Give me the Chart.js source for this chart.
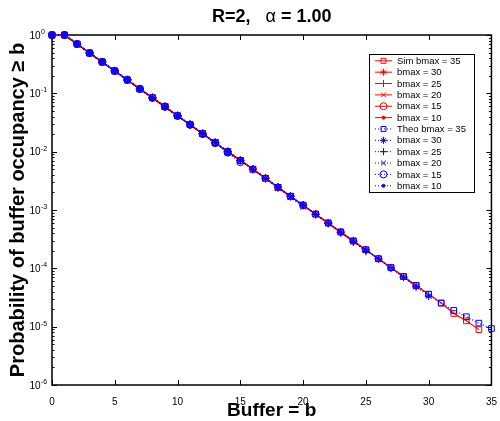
<!DOCTYPE html>
<html>
<head>
<meta charset="utf-8">
<script src="https://cdn.jsdelivr.net/npm/chart.js@4.4.0/dist/chart.umd.min.js"></script>
<style>
  html, body { margin: 0; padding: 0; background: #fff; }
</style>
</head>
<body>
<canvas id="bufChart" width="500" height="421"></canvas>
<script>
// buffer levels b = 0..35
const bufferSteps = [0, 1, 2, 3, 4, 5, 6, 7, 8, 9, 10, 11, 12, 13, 14, 15, 16, 17,
  18, 19, 20, 21, 22, 23, 24, 25, 26, 27, 28, 29, 30, 31, 32, 33, 34, 35];
const xTicks = [0, 5, 10, 15, 20, 25, 30, 35];
const yDecades = [1e-6, 1e-5, 1e-4, 1e-3, 1e-2, 1e-1, 1];

// simulation, red
const simB35 = [1, 1, 0.70, 0.49, 0.345, 0.242, 0.170, 0.119, 0.084, 0.059, 0.0412, 0.0290,
  0.0203, 0.0143, 0.0100, 0.0071, 0.0050, 0.0035, 0.00245, 0.00172, 0.00121, 0.00085,
  0.00060, 0.00042, 0.000295, 0.000208, 0.000146, 0.000103, 0.0000725, 0.000051,
  0.0000360, 0.0000254, 0.0000168, 0.0000126, 0.0000089];
const simB30 = [1, 1, 0.70, 0.49, 0.345, 0.242, 0.170, 0.119, 0.084, 0.059, 0.0412, 0.0290,
  0.0203, 0.0143, 0.0100, 0.0071, 0.0050, 0.0035, 0.00245, 0.00172, 0.00121, 0.00085,
  0.00060, 0.00042, 0.000295, 0.000207, 0.000145, 0.000102, 0.0000715, 0.0000490];
const simB25 = [1, 1, 0.70, 0.49, 0.345, 0.242, 0.170, 0.119, 0.084, 0.059, 0.0412, 0.0290,
  0.0203, 0.0143, 0.0100, 0.0071, 0.0050, 0.0035, 0.00245, 0.00172, 0.00121, 0.00084,
  0.00059, 0.00041, 0.000287];
const simB20 = [1, 1, 0.70, 0.49, 0.345, 0.242, 0.170, 0.119, 0.084, 0.059, 0.0412, 0.0290,
  0.0203, 0.0143, 0.0100, 0.0071, 0.0050, 0.0035, 0.00242, 0.00168];
const simB15 = [1, 1, 0.70, 0.49, 0.345, 0.242, 0.170, 0.119, 0.084, 0.059, 0.0412, 0.0290,
  0.0202, 0.0141, 0.0098];
const simB10 = [1, 1, 0.70, 0.49, 0.345, 0.242, 0.170, 0.119, 0.083, 0.0585];

// theory, blue
const theoB35 = [1, 1, 0.70, 0.49, 0.345, 0.242, 0.170, 0.119, 0.084, 0.059, 0.0412, 0.0290,
  0.0203, 0.0143, 0.0100, 0.0071, 0.0050, 0.0035, 0.00245, 0.00172, 0.00121, 0.00085,
  0.00060, 0.00042, 0.000295, 0.000208, 0.000146, 0.000103, 0.0000725, 0.000051,
  0.0000360, 0.0000254, 0.0000190, 0.0000148, 0.0000115, 0.0000093];
const theoB30 = [1, 1, 0.70, 0.49, 0.345, 0.242, 0.170, 0.119, 0.084, 0.059, 0.0412, 0.0290,
  0.0203, 0.0143, 0.0100, 0.0071, 0.0050, 0.0035, 0.00245, 0.00172, 0.00121, 0.00085,
  0.00060, 0.00042, 0.000295, 0.000207, 0.000145, 0.000101, 0.0000705, 0.0000485, 0.0000335];
const theoB25 = [1, 1, 0.70, 0.49, 0.345, 0.242, 0.170, 0.119, 0.084, 0.059, 0.0412, 0.0290,
  0.0203, 0.0143, 0.0100, 0.0071, 0.0050, 0.0035, 0.00245, 0.00172, 0.00121, 0.00084,
  0.00059, 0.00041, 0.000283, 0.000195];
const theoB20 = [1, 1, 0.70, 0.49, 0.345, 0.242, 0.170, 0.119, 0.084, 0.059, 0.0412, 0.0290,
  0.0203, 0.0143, 0.0100, 0.0071, 0.0050, 0.0035, 0.00240, 0.00165, 0.00113];
const theoB15 = [1, 1, 0.70, 0.49, 0.345, 0.242, 0.170, 0.119, 0.084, 0.059, 0.0412, 0.0290,
  0.0201, 0.0140, 0.0096, 0.0066];
const theoB10 = [1, 1, 0.70, 0.49, 0.345, 0.242, 0.170, 0.118, 0.082, 0.057, 0.0395];

const RED = '#ff0000';
const BLUE = '#0000ff';

function toPoints(vals) {
  return vals.map((v, i) => ({ x: bufferSteps[i], y: v }));
}

// matlab-ish markers: s, *, +, x, o, .
const markerStyles = [
  { pointStyle: 'rect', radius: 4, filled: false },
  { pointStyle: 'star', radius: 4, filled: false },
  { pointStyle: 'cross', radius: 4, filled: false },
  { pointStyle: 'crossRot', radius: 4, filled: false },
  { pointStyle: 'circle', radius: 3.5, filled: false },
  { pointStyle: 'circle', radius: 1.5, filled: true }
];

function makeSet(label, vals, color, k, theo) {
  const m = markerStyles[k];
  return {
    label: label,
    data: toPoints(vals),
    borderColor: color,
    borderWidth: 1.2,
    borderDash: theo ? [1, 2] : [],
    pointStyle: m.pointStyle,
    pointRadius: m.radius,
    pointHoverRadius: m.radius,
    pointBorderColor: color,
    pointBackgroundColor: m.filled ? color : 'rgba(0,0,0,0)',
    pointBorderWidth: 1,
    fill: false,
    tension: 0,
    clip: false,
    order: theo ? 0 : 1
  };
}

const datasets = [
  makeSet('Sim bmax = 35', simB35, RED, 0, false),
  makeSet('bmax = 30', simB30, RED, 1, false),
  makeSet('bmax = 25', simB25, RED, 2, false),
  makeSet('bmax = 20', simB20, RED, 3, false),
  makeSet('bmax = 15', simB15, RED, 4, false),
  makeSet('bmax = 10', simB10, RED, 5, false),
  makeSet('Theo bmax = 35', theoB35, BLUE, 0, true),
  makeSet('bmax = 30', theoB30, BLUE, 1, true),
  makeSet('bmax = 25', theoB25, BLUE, 2, true),
  makeSet('bmax = 20', theoB20, BLUE, 3, true),
  makeSet('bmax = 15', theoB15, BLUE, 4, true),
  makeSet('bmax = 10', theoB10, BLUE, 5, true)
];

const FONT = "'Liberation Sans', Arial, Helvetica, sans-serif";
Chart.defaults.font.family = FONT;
Chart.defaults.color = '#000';

function drawMarker(ctx, ds, x, y, r) {
  ctx.save();
  ctx.strokeStyle = ds.pointBorderColor;
  ctx.fillStyle = ds.pointBackgroundColor;
  ctx.lineWidth = 1;
  Chart.helpers.drawPoint(ctx, {
    pointStyle: ds.pointStyle, radius: r, rotation: 0, borderWidth: 1
  }, x, y);
  ctx.restore();
}

// box with inward ticks, like the old matlab figure
const matlabFrame = {
  id: 'matlabFrame',
  beforeDatasetsDraw(chart) {
    const { ctx, chartArea: a, scales: { x, y } } = chart;
    ctx.save();
    ctx.strokeStyle = '#000';
    ctx.lineWidth = 1;
    ctx.beginPath();
    xTicks.forEach(v => {
      const px = Math.round(x.getPixelForValue(v)) + 0.5;
      ctx.moveTo(px, a.bottom); ctx.lineTo(px, a.bottom - 5);
      ctx.moveTo(px, a.top); ctx.lineTo(px, a.top + 5);
    });
    yDecades.forEach((d, i) => {
      const py = Math.round(y.getPixelForValue(d)) + 0.5;
      ctx.moveTo(a.left, py); ctx.lineTo(a.left + 5, py);
      ctx.moveTo(a.right, py); ctx.lineTo(a.right - 5, py);
      if (i < yDecades.length - 1) {
        for (let k = 2; k <= 9; k++) {
          const pm = Math.round(y.getPixelForValue(k * d)) + 0.5;
          ctx.moveTo(a.left, pm); ctx.lineTo(a.left + 2.5, pm);
          ctx.moveTo(a.right, pm); ctx.lineTo(a.right - 2.5, pm);
        }
      }
    });
    ctx.stroke();
    ctx.lineWidth = 1.5;
    ctx.strokeRect(a.left, a.top, a.right - a.left, a.bottom - a.top);

    // y tick labels 10^n
    ctx.fillStyle = '#000';
    ctx.textBaseline = 'middle';
    yDecades.forEach(d => {
      const py = y.getPixelForValue(d);
      const e = Math.round(Math.log10(d));
      ctx.font = '10px ' + FONT;
      ctx.textAlign = 'right';
      ctx.fillText('10', a.left - 11.5, py + 1);
      ctx.font = '7px ' + FONT;
      ctx.textAlign = 'left';
      ctx.fillText(e === 0 ? '0' : '-' + Math.abs(e), a.left - 11, py - 3);
    });
    ctx.restore();
  },
  afterDraw(chart) {
    const { ctx, chartArea: a } = chart;
    ctx.save();
    // title
    const parts = [
      { t: 'R=2,   ', f: 'bold 18px ' + FONT },
      { t: '\u03b1', f: '18px ' + FONT },
      { t: ' = 1.00', f: 'bold 18px ' + FONT }
    ];
    let total = 0;
    parts.forEach(p => { ctx.font = p.f; p.w = ctx.measureText(p.t).width; total += p.w; });
    let tx = (a.left + a.right) / 2 - total / 2;
    ctx.fillStyle = '#000';
    ctx.textBaseline = 'middle';
    ctx.textAlign = 'left';
    parts.forEach(p => { ctx.font = p.f; ctx.fillText(p.t, tx, 17); tx += p.w; });

    // legend box
    const bx = 369, by = 54, bw = 105, bh = 138;
    ctx.fillStyle = '#fff';
    ctx.fillRect(bx, by, bw, bh);
    ctx.strokeStyle = '#000';
    ctx.lineWidth = 1;
    ctx.strokeRect(bx + 0.5, by + 0.5, bw, bh);
    chart.data.datasets.forEach((ds, i) => {
      const ry = by + 6.8 + i * 11.36;
      ctx.save();
      ctx.strokeStyle = ds.borderColor;
      ctx.lineWidth = 1;
      ctx.setLineDash(ds.borderDash);
      ctx.beginPath();
      ctx.moveTo(375, ry); ctx.lineTo(392, ry);
      ctx.stroke();
      ctx.restore();
      drawMarker(ctx, ds, 383.5, ry, Math.min(ds.pointRadius, 3.5));
      ctx.fillStyle = '#000';
      ctx.font = '9.5px ' + FONT;
      ctx.textBaseline = 'middle';
      ctx.fillText(ds.label, 397, ry + 0.5);
    });
    ctx.restore();
  }
};

new Chart(document.getElementById('bufChart').getContext('2d'), {
  type: 'line',
  data: { datasets: datasets },
  options: {
    responsive: false,
    animation: false,
    devicePixelRatio: 1,
    layout: { padding: { top: 35, right: 5, left: 0, bottom: 0 } },
    scales: {
      x: {
        type: 'linear',
        min: 0,
        max: 35,
        grid: { display: false },
        border: { display: false },
        ticks: { stepSize: 5, padding: 3, maxRotation: 0, autoSkip: false,
          font: { size: 10 }, color: '#000' },
        title: { display: true, text: 'Buffer = b', color: '#000',
          font: { size: 19, weight: 'bold', lineHeight: 1 }, padding: { top: 0, bottom: 1 } },
        afterFit: s => { s.height = 36; }
      },
      y: {
        type: 'logarithmic',
        min: 1e-6,
        max: 1,
        grid: { display: false },
        border: { display: false },
        ticks: { display: false },
        title: { display: true, text: 'Probability of buffer occupancy \u2265 b', color: '#000',
          font: { size: 20, weight: 'bold', lineHeight: 1.2 }, padding: { top: 6, bottom: 0 } },
        afterFit: s => { s.width = 52; }
      }
    },
    plugins: {
      legend: { display: false },
      tooltip: { enabled: false },
      title: { display: false }
    }
  },
  plugins: [matlabFrame]
});
</script>
</body>
</html>
